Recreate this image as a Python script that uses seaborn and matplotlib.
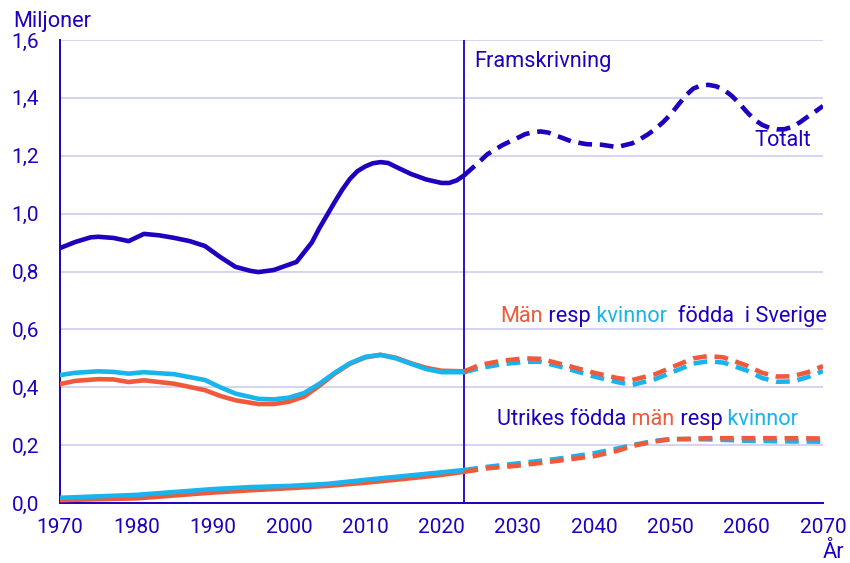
import numpy as np
import pandas as pd
import matplotlib
matplotlib.use("Agg")
import matplotlib.pyplot as plt
import seaborn as sns

# Values (millions)
years_tot_hist = [1970, 1972, 1974, 1975, 1977, 1979, 1981, 1983, 1985, 1987, 1989, 1991, 1993, 1995,
                  1996, 1998, 2001, 2003, 2004, 2005, 2006, 2007, 2008, 2009, 2010, 2011, 2012, 2013,
                  2014, 2016, 2018, 2020, 2021, 2022, 2023]
totalt_hist = [0.881, 0.902, 0.918, 0.920, 0.916, 0.905, 0.930, 0.925, 0.916, 0.905, 0.888, 0.850,
               0.816, 0.802, 0.798, 0.805, 0.833, 0.900, 0.950, 0.995, 1.040, 1.083, 1.120, 1.147,
               1.163, 1.174, 1.178, 1.175, 1.162, 1.137, 1.118, 1.106, 1.106, 1.115, 1.133]
years_tot_proj = [2023, 2025, 2026, 2028, 2030, 2031, 2032, 2033, 2034, 2035, 2037, 2039, 2041,
                  2043, 2045, 2046, 2047, 2048, 2049, 2050, 2051, 2052, 2053, 2054, 2055, 2056,
                  2057, 2058, 2059, 2060, 2061, 2062, 2063, 2064, 2065, 2066, 2067, 2068, 2069, 2070]
totalt_proj = [1.133, 1.180, 1.205, 1.237, 1.262, 1.275, 1.281, 1.284, 1.280, 1.270, 1.250, 1.240,
               1.238, 1.230, 1.243, 1.257, 1.273, 1.292, 1.315, 1.342, 1.375, 1.408, 1.432, 1.443,
               1.445, 1.440, 1.428, 1.408, 1.382, 1.352, 1.325, 1.307, 1.296, 1.291, 1.292, 1.300,
               1.316, 1.335, 1.353, 1.372]

years_sv_hist = [1970, 1972, 1975, 1977, 1979, 1981, 1985, 1989, 1991, 1993, 1996, 1998,
                 2000, 2002, 2004, 2006, 2008, 2010, 2012, 2014, 2016, 2018, 2020, 2023]
sv_man_hist = [0.411, 0.422, 0.428, 0.427, 0.418, 0.424, 0.412, 0.390, 0.370, 0.355, 0.342, 0.342,
               0.350, 0.368, 0.405, 0.447, 0.481, 0.503, 0.512, 0.502, 0.483, 0.467, 0.457, 0.455]
sv_kvinna_hist = [0.442, 0.450, 0.455, 0.453, 0.447, 0.452, 0.445, 0.425, 0.400, 0.378, 0.360, 0.358,
                  0.364, 0.380, 0.412, 0.450, 0.483, 0.505, 0.512, 0.500, 0.481, 0.463, 0.452, 0.452]
years_sv_proj = [2023, 2025, 2028, 2031, 2033, 2036, 2040, 2043, 2045, 2048, 2051, 2053,
                 2055, 2057, 2060, 2062, 2064, 2066, 2068, 2070]
sv_man_proj = [0.455, 0.477, 0.492, 0.500, 0.498, 0.478, 0.450, 0.432, 0.425, 0.445, 0.478, 0.500,
               0.508, 0.503, 0.475, 0.450, 0.437, 0.438, 0.452, 0.473]
sv_kvinna_proj = [0.452, 0.466, 0.480, 0.488, 0.488, 0.468, 0.437, 0.418, 0.408, 0.428, 0.460, 0.482,
                  0.490, 0.485, 0.458, 0.432, 0.419, 0.420, 0.435, 0.456]

years_ut_hist = [1970, 1975, 1980, 1985, 1990, 1995, 2000, 2005, 2010, 2015, 2020, 2023]
ut_man_hist = [0.010, 0.013, 0.016, 0.026, 0.036, 0.044, 0.051, 0.059, 0.070, 0.083, 0.097, 0.108]
ut_kvinna_hist = [0.018, 0.023, 0.028, 0.038, 0.048, 0.055, 0.059, 0.066, 0.080, 0.093, 0.106, 0.114]
years_ut_proj = [2023, 2026, 2030, 2035, 2040, 2043, 2045, 2048, 2050, 2055, 2060, 2065, 2070]
ut_man_proj = [0.108, 0.120, 0.129, 0.145, 0.162, 0.180, 0.197, 0.213, 0.220, 0.224, 0.224, 0.224, 0.223]
ut_kvinna_proj = [0.114, 0.125, 0.137, 0.152, 0.172, 0.188, 0.200, 0.215, 0.221, 0.220, 0.215, 0.213, 0.212]

y_ticks = [0.0, 0.2, 0.4, 0.6, 0.8, 1.0, 1.2, 1.4, 1.6]
x_ticks = list(range(1970, 2071, 10))

DARK = "#1e00be"
RED = "#f05a3c"
LIGHT = "#19b4eb"
GRID = "#d4d4f2"

sns.set_style("white")
plt.rcParams["font.family"] = ["Roboto", "DejaVu Sans"]

fig = plt.figure(figsize=(8.5, 5.63), dpi=100)
ax = fig.add_axes([60 / 850, 60 / 563, (823 - 60) / 850, (503 - 40) / 563])

LW = 3.3
DASH = (3.0, 1.7)


def draw(years, vals, color, proj):
    df = pd.DataFrame({"year": years, "value": vals})
    sns.lineplot(data=df, x="year", y="value", ax=ax, color=color, lw=LW,
                 legend=False, zorder=3)
    ln = ax.get_lines()[-1]
    ln.set_solid_capstyle("round")
    ln.set_solid_joinstyle("round")
    if proj:
        ln.set_dashes(DASH)
        ln.set_dash_capstyle("butt")


draw(years_ut_hist, ut_man_hist, RED, False)
draw(years_ut_hist, ut_kvinna_hist, LIGHT, False)
draw(years_ut_proj, ut_kvinna_proj, LIGHT, True)
draw(years_ut_proj, ut_man_proj, RED, True)
draw(years_sv_hist, sv_man_hist, RED, False)
draw(years_sv_hist, sv_kvinna_hist, LIGHT, False)
draw(years_sv_proj, sv_kvinna_proj, LIGHT, True)
draw(years_sv_proj, sv_man_proj, RED, True)
draw(years_tot_hist, totalt_hist, DARK, False)
draw(years_tot_proj, totalt_proj, DARK, True)

ax.axvline(2023, color=DARK, lw=1.3, zorder=2)

ax.set_xlim(1970, 2070)
ax.set_ylim(0, 1.6)
ax.set_xticks(x_ticks)
ax.set_yticks(y_ticks)
ax.set_yticklabels([f"{v:.1f}".replace(".", ",") for v in y_ticks])
ax.set_xlabel("")
ax.set_ylabel("")
ax.grid(axis="y", color=GRID, lw=1.4, zorder=0)
ax.grid(axis="x", visible=False)
for s in ["top", "right"]:
    ax.spines[s].set_visible(False)
for s in ["left", "bottom"]:
    ax.spines[s].set_color(DARK)
    ax.spines[s].set_linewidth(1.4)
ax.tick_params(axis="both", colors=DARK, labelcolor=DARK, labelsize=15,
               direction="out", length=6, width=1.4)
ax.tick_params(axis="y", pad=9)
ax.tick_params(axis="x", pad=5)

fs = 15.7
ax.text(2024.3, 1.524, "Framskrivning", color=DARK, fontsize=fs, va="center")
ax.text(2061.0, 1.254, "Totalt", color=DARK, fontsize=fs, va="center")


def rainbow(x, y, parts):
    t = ax.text(x, y, parts[0][0], color=parts[0][1], fontsize=fs, va="center")
    for s, c in parts[1:]:
        t = ax.annotate(s, xy=(1, 0), xycoords=t, va="bottom", color=c, fontsize=fs)


rainbow(2027.7, 0.643, [("Män", RED), (" resp", DARK), (" kvinnor", LIGHT),
                        ("  födda  i Sverige", DARK)])
rainbow(2027.3, 0.287, [("Utrikes födda", DARK), (" män", RED), (" resp", DARK),
                        (" kvinnor", LIGHT)])

fig.text(13 / 850, 1 - 22 / 563, "Miljoner", color=DARK, fontsize=fs, va="center")
fig.text(833 / 850, 1 - 553 / 563, "År", color=DARK, fontsize=fs, va="center", ha="center")

fig.savefig("out.png", dpi=100)
